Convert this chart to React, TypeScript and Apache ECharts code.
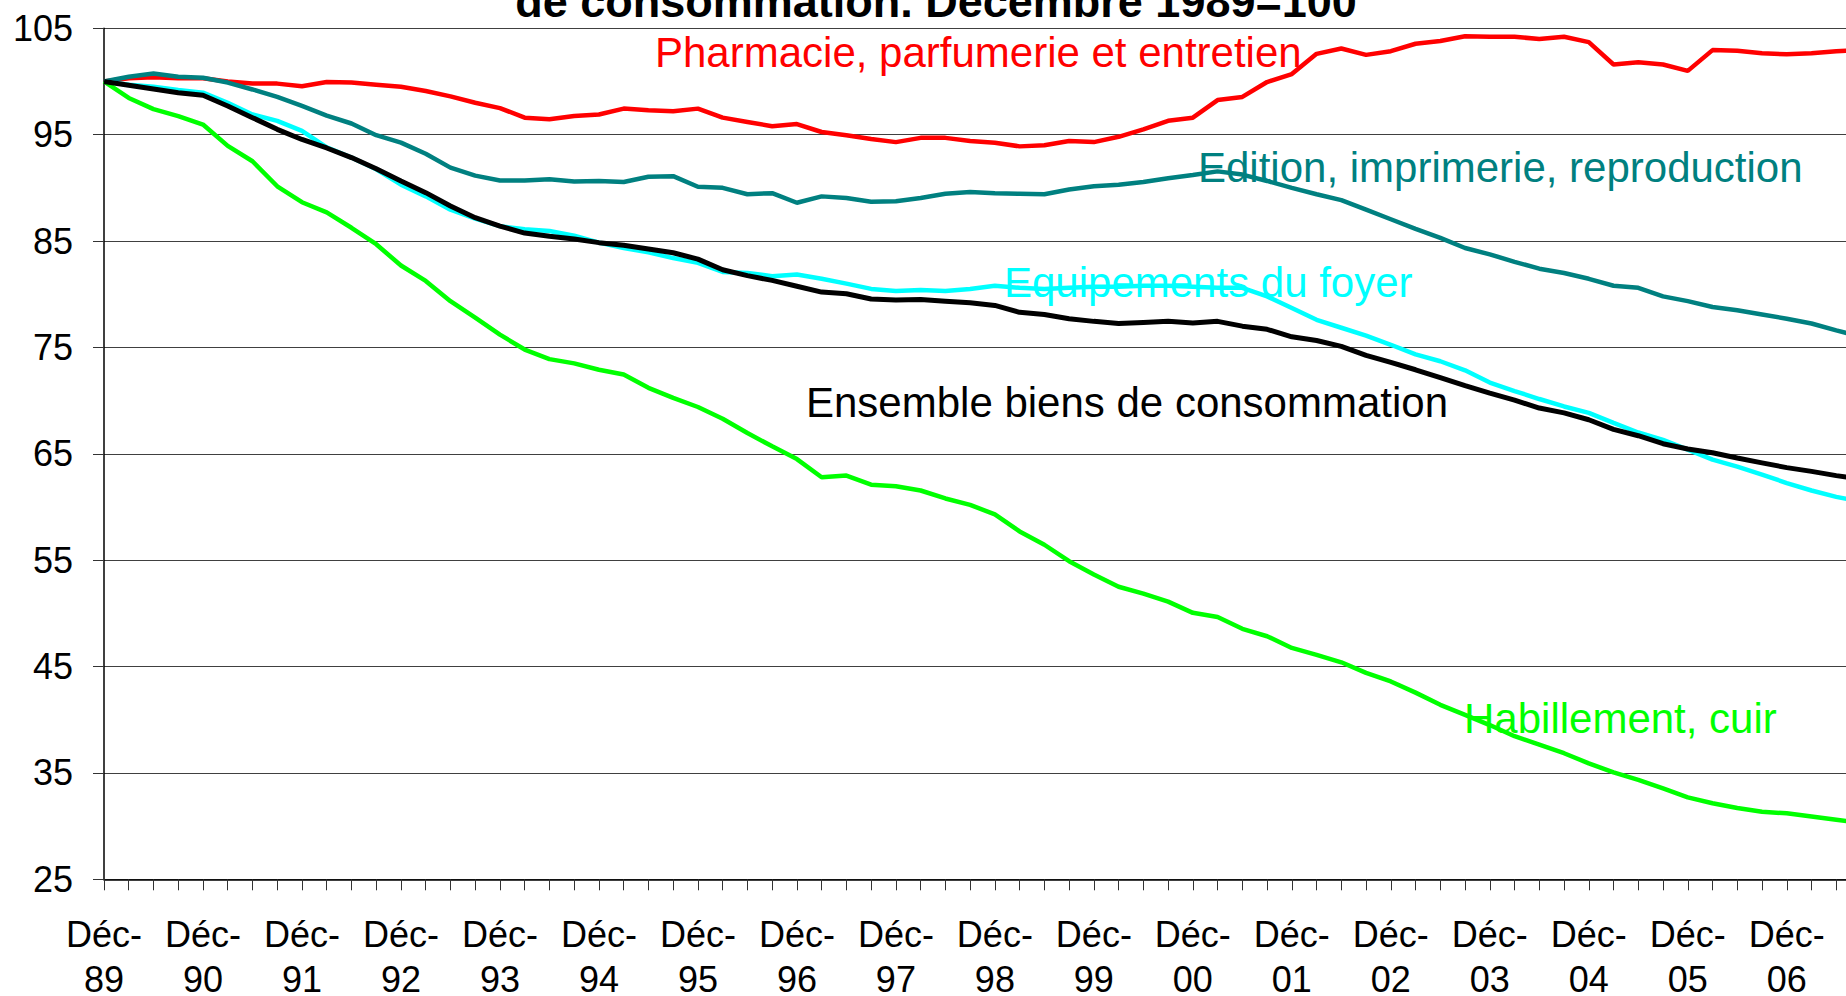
import React, { useEffect, useRef } from "react";
import * as echarts from "echarts";

const years = ["89", "90", "91", "92", "93", "94", "95", "96", "97", "98", "99", "00", "01", "02", "03", "04", "05", "06", "07"];

// Quarterly categories, Dec 1989 .. Sep 2007
const categories: string[] = [];
for (let y = 0; y < 18; y++) {
  categories.push("Déc-" + years[y]);
  categories.push("Mars-" + years[y + 1]);
  categories.push("Juin-" + years[y + 1]);
  categories.push("Sept-" + years[y + 1]);
}

const pharmacie = [
  100, 100.3, 100.4, 100.3, 100.3, 100.0, 99.8, 99.8, 99.55, 99.95, 99.9, 99.7,
  99.5, 99.1, 98.6, 98.0, 97.5, 96.6, 96.45, 96.75, 96.9, 97.45, 97.3, 97.2,
  97.45, 96.6, 96.2, 95.8, 96.0, 95.25, 94.95, 94.6, 94.3, 94.7, 94.7, 94.4,
  94.25, 93.9, 94.0, 94.4, 94.3, 94.8, 95.5, 96.3, 96.6, 98.25, 98.55, 99.95,
  100.7, 102.6, 103.1, 102.5, 102.85, 103.55, 103.8, 104.25, 104.2, 104.2, 104.0, 104.2,
  103.7, 101.6, 101.8, 101.6, 101.0, 102.95, 102.9, 102.65, 102.55, 102.65, 102.85, 102.95,
];

const edition = [
  100, 100.45, 100.75, 100.45, 100.35, 99.9, 99.25, 98.55, 97.7, 96.8, 96.05, 94.95,
  94.25, 93.2, 91.9, 91.15, 90.7, 90.7, 90.8, 90.6, 90.65, 90.55, 91.05, 91.1,
  90.1, 90.0, 89.4, 89.5, 88.6, 89.2, 89.05, 88.7, 88.75, 89.05, 89.45, 89.6,
  89.5, 89.45, 89.4, 89.85, 90.15, 90.3, 90.55, 90.9, 91.2, 91.55, 91.25, 90.65,
  90.0, 89.4, 88.85, 87.95, 87.05, 86.15, 85.3, 84.35, 83.75, 83.05, 82.4, 82.0,
  81.45, 80.8, 80.6, 79.8, 79.35, 78.8, 78.5, 78.1, 77.7, 77.25, 76.6, 76.0,
];

const equipements = [
  100, 99.7, 99.5, 99.2, 98.95, 98.0, 96.9, 96.3, 95.35, 93.8, 92.85, 91.75,
  90.3, 89.2, 87.95, 87.1, 86.4, 86.1, 85.95, 85.5, 84.85, 84.35, 83.95, 83.4,
  82.95, 82.1, 82.0, 81.7, 81.85, 81.45, 81.0, 80.5, 80.3, 80.4, 80.3, 80.5,
  80.8, 80.6, 80.5, 80.6, 80.7, 80.7, 80.8, 80.8, 80.7, 80.6, 80.6, 79.8,
  78.7, 77.6, 76.85, 76.1, 75.25, 74.35, 73.7, 72.85, 71.7, 70.9, 70.15, 69.45,
  68.85, 67.9, 67.0, 66.3, 65.4, 64.45, 63.8, 63.05, 62.25, 61.55, 60.95, 60.5,
];

const habillement = [
  100, 98.45, 97.4, 96.75, 95.95, 93.95, 92.5, 90.15, 88.65, 87.7, 86.25, 84.7,
  82.7, 81.25, 79.35, 77.8, 76.2, 74.8, 73.9, 73.5, 72.9, 72.45, 71.2, 70.25,
  69.4, 68.3, 66.95, 65.7, 64.5, 62.8, 62.95, 62.1, 61.95, 61.55, 60.8, 60.2,
  59.3, 57.7, 56.45, 54.9, 53.65, 52.5, 51.85, 51.1, 50.05, 49.65, 48.55, 47.85,
  46.75, 46.1, 45.4, 44.4, 43.6, 42.55, 41.4, 40.45, 39.5, 38.45, 37.65, 36.85,
  35.9, 35.05, 34.35, 33.55, 32.7, 32.15, 31.7, 31.35, 31.2, 30.9, 30.6, 30.3,
];

const ensemble = [
  100, 99.65, 99.3, 98.95, 98.7, 97.7, 96.6, 95.5, 94.55, 93.75, 92.85, 91.8,
  90.65, 89.55, 88.3, 87.2, 86.4, 85.75, 85.45, 85.2, 84.85, 84.6, 84.25, 83.9,
  83.3, 82.3, 81.75, 81.3, 80.75, 80.2, 80.05, 79.55, 79.45, 79.5, 79.35, 79.2,
  78.95, 78.3, 78.1, 77.7, 77.45, 77.25, 77.35, 77.45, 77.3, 77.45, 77.0, 76.7,
  76.0, 75.65, 75.1, 74.25, 73.6, 72.9, 72.15, 71.4, 70.7, 70.05, 69.3, 68.85,
  68.2, 67.3, 66.7, 65.95, 65.45, 65.1, 64.6, 64.15, 63.7, 63.35, 62.95, 62.6,
];

const FONT = "'Liberation Sans', Arial, Helvetica, sans-serif";

export default function App() {
  const ref = useRef<HTMLDivElement>(null);

  useEffect(() => {
    if (!ref.current) return;
    const chart = echarts.init(ref.current, null, { renderer: "svg" });

    const mkText = (text: string, x: number, y: number, color: string, size: number, weight = "normal", align = "left") => ({
      type: "text",
      x,
      y,
      z: 0,
      style: {
        text,
        fill: color,
        font: `${weight} ${size}px ${FONT}`,
        textAlign: align,
        textVerticalAlign: "middle",
      },
    });

    const line = (name: string, data: number[], color: string, z: number, width: number) => ({
      name,
      type: "line",
      data,
      showSymbol: false,
      symbol: "none",
      z,
      lineStyle: { color, width },
      itemStyle: { color },
    });

    chart.setOption({
      animation: false,
      backgroundColor: "#ffffff",
      grid: {
        left: 104,
        top: 28.3,
        width: 1757,
        height: 851,
        containLabel: false,
        outerBoundsMode: "none",
      },
      xAxis: {
        type: "category",
        data: categories,
        boundaryGap: false,
        axisLine: { show: true, lineStyle: { color: "#000", width: 1.5 } },
        axisTick: { show: true, interval: 0, length: 11, lineStyle: { color: "#333", width: 1 } },
        axisLabel: {
          interval: 3,
          formatter: (v: string) => v.replace("-", "-\n"),
          color: "#000",
          fontSize: 36,
          lineHeight: 45,
          margin: 33,
          fontFamily: FONT,
        },
        splitLine: { show: false },
      },
      yAxis: {
        type: "value",
        min: 25,
        max: 105,
        interval: 10,
        axisLine: { show: true, lineStyle: { color: "#000", width: 1.5 } },
        axisTick: { show: true, length: 11, lineStyle: { color: "#333", width: 1 } },
        axisLabel: { color: "#000", fontSize: 36, margin: 31, fontFamily: FONT },
        splitLine: { show: true, lineStyle: { color: "#404040", width: 1 } },
      },
      series: [
        line("Pharmacie, parfumerie et entretien", pharmacie, "#ff0000", 2, 4.5),
        line("Edition, imprimerie, reproduction", edition, "#008080", 3, 4.5),
        line("Equipements du foyer", equipements, "#00ffff", 4, 4.5),
        line("Habillement, cuir", habillement, "#00ff00", 5, 4.5),
        line("Ensemble biens de consommation", ensemble, "#000000", 6, 5),
      ],
      graphic: [
        mkText("de consommation. Décembre 1989=100", 936, 1.5, "#000", 45, "bold", "center"),
        mkText("Pharmacie, parfumerie et entretien", 655, 52.2, "#ff0000", 42),
        mkText("Edition, imprimerie, reproduction", 1198, 167.2, "#008080", 42),
        mkText("Equipements du foyer", 1004, 282, "#00ffff", 42),
        mkText("Ensemble biens de consommation", 806, 402.2, "#000000", 42),
        mkText("Habillement, cuir", 1464, 718.8, "#00ff00", 42),
      ],
    });

    return () => chart.dispose();
  }, []);

  return (
    <div
      ref={ref}
      style={{ position: "fixed", left: 0, top: 0, width: 1846, height: 996, background: "#fff" }}
    />
  );
}
